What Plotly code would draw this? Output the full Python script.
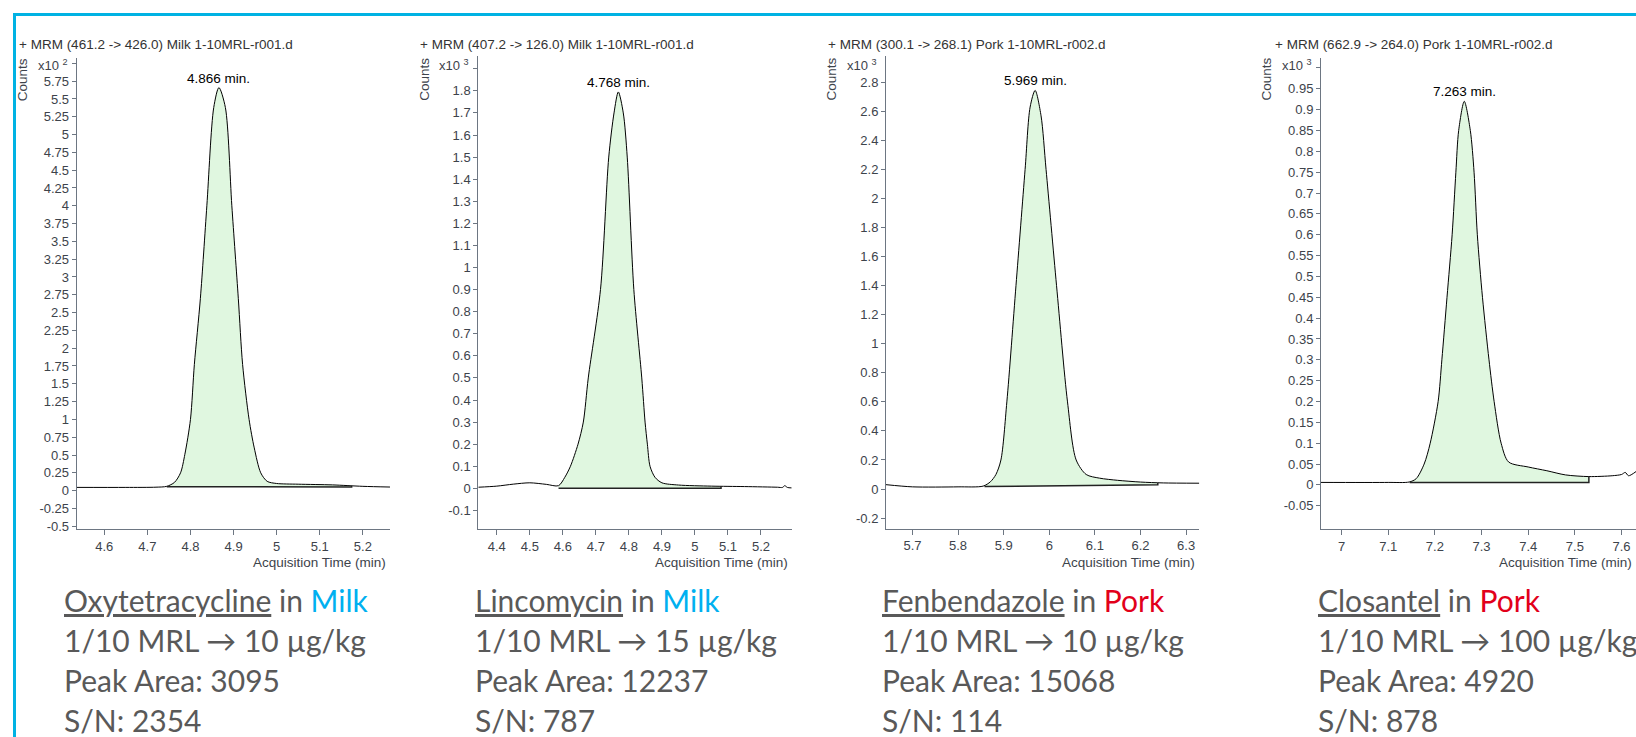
import numpy as np
import plotly.graph_objects as go

W, H = 1636, 737

# ---------------- chromatogram data (retention time in min, counts in scaled units) ----------------
# Oxytetracycline in milk, counts x10^2
oxy_rt = [4.536, 4.65, 4.72, 4.745, 4.763, 4.777, 4.787, 4.800, 4.809, 4.823, 4.838, 4.854,
          4.866, 4.881, 4.896, 4.911, 4.921, 4.936, 4.948, 4.963, 4.978, 5.0, 5.05, 5.13, 5.2, 5.263]
oxy_counts = [0.045, 0.045, 0.048, 0.06, 0.116, 0.25, 0.51, 1.0, 1.77, 2.70, 4.0, 5.38,
              5.66, 5.38, 4.0, 2.70, 1.77, 1.0, 0.6, 0.25, 0.13, 0.10, 0.09, 0.08, 0.06, 0.05]
oxy_base_rt = [4.745, 5.174]
oxy_base_counts = [0.055, 0.05]

# Lincomycin in milk, counts x10^3
lin_rt = [4.344, 4.40, 4.45, 4.50, 4.55, 4.587, 4.606, 4.623, 4.646, 4.662, 4.677, 4.714, 4.739,
          4.755, 4.768, 4.783, 4.795, 4.815, 4.839, 4.849, 4.856, 4.864, 4.879, 4.90, 4.95, 5.05,
          5.15, 5.25, 5.265, 5.272, 5.28, 5.293]
lin_counts = [0.005, 0.01, 0.019, 0.025, 0.018, 0.012, 0.05, 0.1, 0.2, 0.3, 0.5, 0.9, 1.5,
              1.7, 1.795, 1.7, 1.5, 0.9, 0.5, 0.3, 0.2, 0.1, 0.05, 0.025, 0.015, 0.01,
              0.008, 0.005, 0.004, 0.012, 0.004, 0.002]
lin_base_rt = [4.587, 5.079]
lin_base_counts = [0.0, 0.0]

# Fenbendazole in pork, counts x10^3
fen_rt = [5.642, 5.70, 5.80, 5.855, 5.871, 5.883, 5.894, 5.907, 5.927, 5.947, 5.958, 5.969,
          5.982, 5.993, 6.016, 6.040, 6.059, 6.081, 6.11, 6.15, 6.20, 6.25, 6.329]
fen_counts = [0.03, 0.015, 0.015, 0.02, 0.05, 0.10, 0.2, 0.6, 1.4, 2.2, 2.63, 2.745,
              2.57, 2.2, 1.4, 0.6, 0.2, 0.1, 0.075, 0.06, 0.048, 0.042, 0.04]
fen_base_rt = [5.858, 6.238]
fen_base_counts = [0.017, 0.03]

# Closantel in pork, counts x10^3
clo_rt = [6.956, 7.10, 7.145, 7.16, 7.177, 7.190, 7.207, 7.215, 7.226, 7.237, 7.245, 7.251,
          7.263, 7.276, 7.284, 7.291, 7.302, 7.316, 7.327, 7.342, 7.358, 7.40, 7.44, 7.48,
          7.53, 7.58, 7.60, 7.608, 7.615, 7.631]
clo_counts = [0.006, 0.006, 0.007, 0.015, 0.05, 0.1, 0.2, 0.3, 0.45, 0.6, 0.75, 0.85,
              0.92, 0.85, 0.75, 0.6, 0.45, 0.3, 0.2, 0.1, 0.055, 0.043, 0.034, 0.024,
              0.02, 0.022, 0.025, 0.03, 0.022, 0.032]
clo_base_rt = [7.146, 7.53]
clo_base_counts = [0.006, 0.006]

# ---------------- labels ----------------
mrm_titles = ["+ MRM (461.2 -> 426.0) Milk 1-10MRL-r001.d",
              "+ MRM (407.2 -> 126.0) Milk 1-10MRL-r001.d",
              "+ MRM (300.1 -> 268.1) Pork 1-10MRL-r002.d",
              "+ MRM (662.9 -> 264.0) Pork 1-10MRL-r002.d"]
count_exponents = [2, 3, 3, 3]
peak_rts = [4.866, 4.768, 5.969, 7.263]
compounds = ["Oxytetracycline", "Lincomycin", "Fenbendazole", "Closantel"]
matrices = ["Milk", "Milk", "Pork", "Pork"]
mrl_levels = ["10", "15", "10", "100"]
peak_areas = [3095, 12237, 15068, 4920]
sn_ratios = [2354, 787, 114, 878]

# tick positions
oxy_yticks = [-0.5, -0.25, 0, 0.25, 0.5, 0.75, 1, 1.25, 1.5, 1.75, 2, 2.25, 2.5, 2.75, 3,
              3.25, 3.5, 3.75, 4, 4.25, 4.5, 4.75, 5, 5.25, 5.5, 5.75]
lin_yticks = [-0.1, 0, 0.1, 0.2, 0.3, 0.4, 0.5, 0.6, 0.7, 0.8, 0.9, 1, 1.1, 1.2, 1.3, 1.4,
              1.5, 1.6, 1.7, 1.8]
fen_yticks = [-0.2, 0, 0.2, 0.4, 0.6, 0.8, 1, 1.2, 1.4, 1.6, 1.8, 2, 2.2, 2.4, 2.6, 2.8]
clo_yticks = [-0.05, 0, 0.05, 0.1, 0.15, 0.2, 0.25, 0.3, 0.35, 0.4, 0.45, 0.5, 0.55, 0.6,
              0.65, 0.7, 0.75, 0.8, 0.85, 0.9, 0.95]
top_ticks = [[6], [1.9], [], [1.0]]   # unlabeled tick beside the x10^n multiplier
oxy_xticks = [4.6, 4.7, 4.8, 4.9, 5, 5.1, 5.2]
lin_xticks = [4.4, 4.5, 4.6, 4.7, 4.8, 4.9, 5, 5.1, 5.2]
fen_xticks = [5.7, 5.8, 5.9, 6, 6.1, 6.2, 6.3]
clo_xticks = [7, 7.1, 7.2, 7.3, 7.4, 7.5, 7.6]

panels = [
    dict(rt=oxy_rt, counts=oxy_counts, brt=oxy_base_rt, bc=oxy_base_counts,
         yt=oxy_yticks, xt=oxy_xticks),
    dict(rt=lin_rt, counts=lin_counts, brt=lin_base_rt, bc=lin_base_counts,
         yt=lin_yticks, xt=lin_xticks),
    dict(rt=fen_rt, counts=fen_counts, brt=fen_base_rt, bc=fen_base_counts,
         yt=fen_yticks, xt=fen_xticks),
    dict(rt=clo_rt, counts=clo_counts, brt=clo_base_rt, bc=clo_base_counts,
         yt=clo_yticks, xt=clo_xticks),
]

# ---------------- layout geometry (pixels) ----------------
x_dom_px = [(76.7, 390.0), (478.3, 791.7), (886.0, 1199.3), (1321.0, 1636.0)]
y_dom_px = [(58.0, 532.3), (56.7, 532.3), (56.0, 531.7), (58.3, 532.0)]
x_ranges = [(4.536, 5.263), (4.344, 5.293), (5.642, 6.329), (6.956, 7.631)]
y_ranges = [(-0.545, 6.080), (-0.186, 1.956), (-0.274, 2.984), (-0.106, 1.024)]
text_left_px = [61.7, 472.7, 879.6, 1315.5]

AXIS_COLOR = "#6d7682"
TICK_COLOR = "#3d434b"
FILL = "#E0F7E0"
GRAY = "#595959"
MATRIX_COLOR = {"Milk": "#00B0F0", "Pork": "#E2001A"}
TICK_FONT = dict(family="Liberation Sans, Arial", size=13, color=TICK_COLOR)

fig = go.Figure()
annotations = []
layout_axes = {}


def fmt(v):
    return f"{v:g}"


for i, p in enumerate(panels):
    xa = "x" if i == 0 else f"x{i + 1}"
    ya = "y" if i == 0 else f"y{i + 1}"
    rt = np.array(p["rt"])
    counts = np.array(p["counts"])
    s, e = p["brt"]

    # integration baseline used as the lower edge of the shaded area
    fig.add_trace(go.Scatter(x=p["brt"], y=p["bc"], mode="lines", line=dict(width=0),
                             hoverinfo="skip", showlegend=False, xaxis=xa, yaxis=ya))
    seg_x = np.concatenate([[s], rt[(rt > s) & (rt < e)], [e]])
    seg_y = np.interp(seg_x, rt, counts)
    fig.add_trace(go.Scatter(x=seg_x, y=seg_y, mode="lines", fill="tonexty", fillcolor=FILL,
                             line=dict(width=0, shape="spline", smoothing=0.8),
                             hoverinfo="skip", showlegend=False, xaxis=xa, yaxis=ya))
    # chromatogram
    fig.add_trace(go.Scatter(x=rt, y=counts, mode="lines",
                             line=dict(color="black", width=1, shape="spline", smoothing=0.8),
                             showlegend=False, xaxis=xa, yaxis=ya))
    # visible baseline with drop line at the end of integration
    end_y = float(np.interp(e, rt, counts))
    fig.add_trace(go.Scatter(x=[s, e, e], y=[p["bc"][0], p["bc"][1], end_y], mode="lines",
                             line=dict(color="#222222", width=1.5),
                             hoverinfo="skip", showlegend=False, xaxis=xa, yaxis=ya))

    x0, x1 = x_dom_px[i]
    yt0, yb0 = y_dom_px[i]
    key = "" if i == 0 else str(i + 1)
    layout_axes["xaxis" + key] = dict(
        domain=[x0 / W, x1 / W], range=list(x_ranges[i]), anchor=ya,
        tickvals=p["xt"], ticktext=[fmt(v) for v in p["xt"]],
        showline=True, linecolor=AXIS_COLOR, linewidth=1, ticks="outside", ticklen=5,
        tickcolor=AXIS_COLOR, tickfont=TICK_FONT, showgrid=False, zeroline=False)
    layout_axes["yaxis" + key] = dict(
        domain=[1 - yb0 / H, 1 - yt0 / H], range=list(y_ranges[i]), anchor=xa,
        tickvals=p["yt"], ticktext=[fmt(v) for v in p["yt"]],
        minor=dict(tickvals=top_ticks[i], ticks="outside", ticklen=4, tickcolor=AXIS_COLOR,
                   showgrid=False),
        showline=True, linecolor=AXIS_COLOR, linewidth=1, ticks="outside", ticklen=4,
        tickcolor=AXIS_COLOR, tickfont=TICK_FONT, showgrid=False, zeroline=False)

    # MRM title
    annotations.append(dict(text=mrm_titles[i], xref="paper", yref="paper",
                            x=(x0 - 60) / W if i < 3 else (x0 - 48.3) / W, y=1 - 45 / H,
                            xanchor="left", yanchor="middle", showarrow=False,
                            font=dict(family="Liberation Sans, Arial", size=13.5, color="#333333")))
    # Counts label
    annotations.append(dict(text="Counts", xref="paper", yref="paper",
                            x=(x0 - 54) / W, y=1 - 80 / H, textangle=-90,
                            xanchor="center", yanchor="middle", showarrow=False,
                            font=dict(family="Liberation Sans, Arial", size=13.5, color="#3d434b")))
    # multiplier
    annotations.append(dict(text=f"x10 <sup>{count_exponents[i]}</sup>", xref="paper", yref="paper",
                            x=(x0 - 7) / W, y=1 - 65 / H, xanchor="right", yanchor="middle",
                            showarrow=False, font=TICK_FONT))
    # peak apex label
    apex = float(np.interp(peak_rts[i], rt, counts))
    annotations.append(dict(text=f"{peak_rts[i]:.3f} min.", xref=xa, yref=ya,
                            x=peak_rts[i], y=apex, xanchor="center", yanchor="bottom",
                            showarrow=False, yshift=0,
                            font=dict(family="Liberation Sans, Arial", size=13.5, color="black")))
    # x-axis title
    annotations.append(dict(text="Acquisition Time (min)", xref=f"{xa} domain", yref="paper",
                            x=1, y=1 - 565.7 / H, xanchor="right", yanchor="middle",
                            xshift=-2, showarrow=False,
                            font=dict(family="Liberation Sans, Arial", size=13.5, color=TICK_COLOR)))

    # summary block
    lines = [
        f"<u>{compounds[i]}</u> in <span style='color:{MATRIX_COLOR[matrices[i]]}'>{matrices[i]}</span>",
        f"1/10 MRL \u2192 {mrl_levels[i]} \u00b5g/kg",
        f"Peak Area: {peak_areas[i]}",
        f"S/N: {sn_ratios[i]}",
    ]
    for j, (txt, ypx) in enumerate(zip(lines, [603, 643.5, 683.5, 723.5])):
        annotations.append(dict(text=txt, xref="paper", yref="paper",
                                x=text_left_px[i] / W, y=1 - ypx / H,
                                xanchor="left", yanchor="middle", showarrow=False,
                                font=dict(family="Lato, Carlito, Calibri, sans-serif",
                                          size=30, color=GRAY)))

fig.update_layout(
    width=W, height=H, margin=dict(l=0, r=0, t=0, b=0),
    paper_bgcolor="white", plot_bgcolor="white",
    showlegend=False, annotations=annotations,
    shapes=[dict(type="rect", xref="paper", yref="paper",
                 x0=14.5 / W, x1=1.02, y0=-0.02, y1=1 - 14.5 / H,
                 line=dict(color="#00B2E3", width=3), fillcolor="rgba(0,0,0,0)", layer="above")],
    **layout_axes,
)

fig.write_html("out.html")
